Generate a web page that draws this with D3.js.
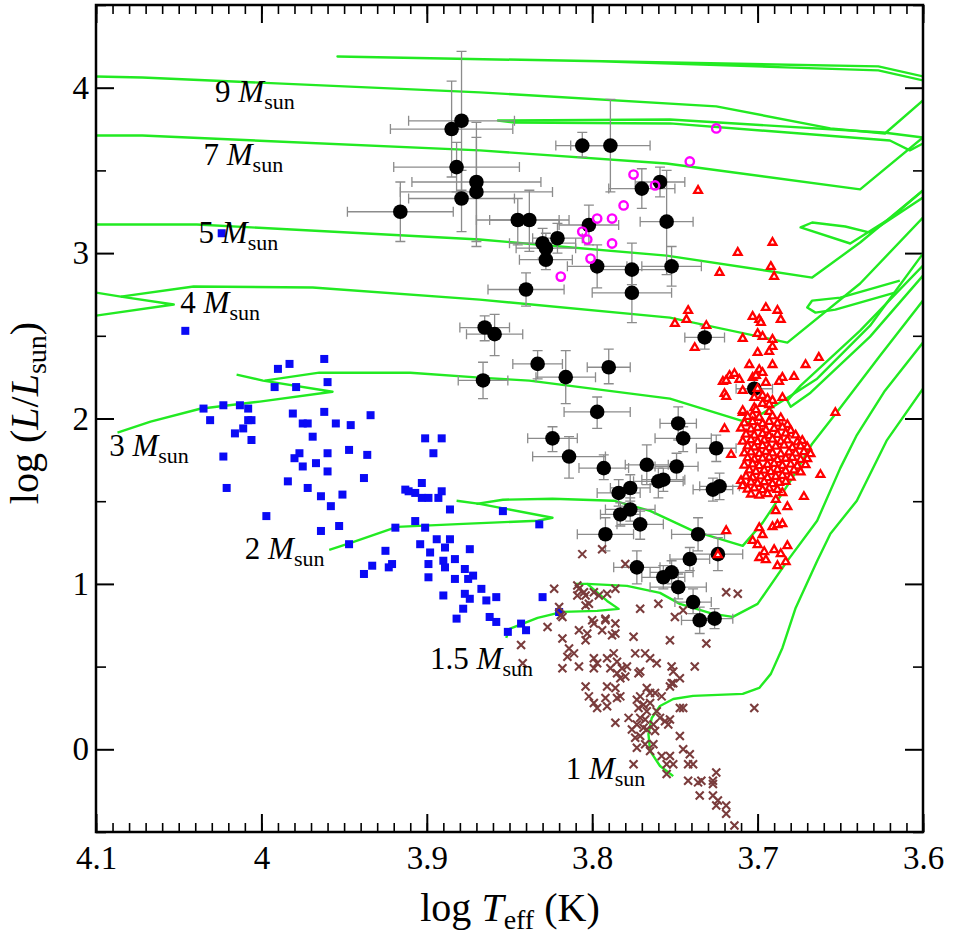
<!DOCTYPE html>
<html>
<head>
<meta charset="utf-8">
<script src="https://cdn.jsdelivr.net/npm/d3@7"></script>
<style>
  body { margin: 0; background: #fff; }
  svg, svg text { font-family: "Liberation Serif", "Times New Roman", Times, serif; }
</style>
</head>
<body>
<svg id="chart" width="953" height="934" font-family="Liberation Serif, Times New Roman, serif"></svg>
<script>
// axis ticks
const xTicks = [4.1, 4, 3.9, 3.8, 3.7, 3.6]
const yTicks = [0, 1, 2, 3, 4]

// evolutionary tracks, [log Teff, log L]
const track9 = [[4.100,4.068],[4.072,4.062],[3.868,3.972],[3.725,3.887],[3.656,3.754],[3.623,3.723],[3.600,3.923]]
const track9Loop = [[3.600,4.068],[3.627,4.129],[3.954,4.189],[3.795,4.159],[3.627,4.105],[3.600,4.044]]
const track7Loop = [[3.600,3.699],[3.624,3.729],[3.753,3.808],[3.857,3.802],[3.848,3.790],[3.753,3.784],[3.620,3.681],[3.608,3.621],[3.600,3.663]]
const track7 = [[4.100,3.711],[4.072,3.711],[3.868,3.621],[3.755,3.542],[3.638,3.385],[3.600,3.699]]
const track5 = [[4.100,3.173],[4.039,3.173],[3.868,3.082],[3.755,2.985],[3.667,2.852],[3.638,3.064],[3.600,3.379]]
const track5Loop = [[3.600,3.336],[3.632,3.124],[3.647,3.161],[3.667,3.185],[3.674,3.155],[3.644,3.058],[3.620,3.209],[3.600,3.379]]
const track4a = [[4.100,2.622],[4.053,2.689],[4.085,2.737],[4.100,2.761]]
const track4b = [[4.085,2.737],[4.041,2.798],[3.969,2.792],[3.868,2.719],[3.753,2.610],[3.682,2.459],[3.638,2.816],[3.600,3.215]]
const track4Loop = [[3.614,2.834],[3.650,2.731],[3.667,2.713],[3.670,2.671],[3.665,2.640],[3.653,2.658],[3.617,2.761]]
const track3a = [[4.087,1.914],[4.067,1.981],[4.037,2.059],[4.001,2.102],[3.957,2.162],[3.999,2.229],[4.015,2.265]]
const track3b = [[3.998,2.229],[3.965,2.277],[3.910,2.277],[3.868,2.247],[3.838,2.229],[3.753,2.120],[3.706,1.975],[3.680,2.138],[3.664,2.241],[3.632,2.561],[3.600,2.997]]
const track3Loop = [[3.600,2.925],[3.638,2.531],[3.674,2.199],[3.682,2.108],[3.680,2.071],[3.668,2.156],[3.632,2.495],[3.600,2.864]]
const track2a = [[3.959,1.206],[3.946,1.248],[3.918,1.345],[3.878,1.363],[3.833,1.382],[3.824,1.400],[3.868,1.484],[3.882,1.503]]
const track2b = [[3.870,1.484],[3.854,1.509],[3.824,1.515],[3.787,1.503],[3.765,1.442],[3.739,1.321],[3.709,1.230],[3.697,1.369],[3.680,1.624],[3.667,1.848],[3.650,2.065],[3.626,2.380],[3.600,2.713]]
const track15a = [[3.852,0.674],[3.850,0.728],[3.833,0.795],[3.818,0.831],[3.797,0.837],[3.784,0.849],[3.791,0.897],[3.803,1.000],[3.810,1.000]]
const track15b = [[3.803,1.000],[3.779,0.988],[3.759,0.946],[3.747,0.879],[3.727,0.819],[3.715,0.801],[3.700,0.879],[3.682,1.139],[3.664,1.382],[3.650,1.700],[3.640,1.900],[3.623,2.168],[3.600,2.459]]
const track1 = [[3.751,-0.162],[3.759,-0.101],[3.765,-0.010],[3.766,0.093],[3.764,0.189],[3.759,0.262],[3.751,0.304],[3.739,0.323],[3.709,0.335],[3.699,0.371],[3.692,0.456],[3.685,0.613],[3.677,0.855],[3.664,1.139],[3.656,1.303],[3.640,1.503],[3.622,1.866],[3.600,2.180]]
const tracks = [track9, track9Loop, track7Loop, track7, track5, track5Loop, track4a, track4b, track4Loop,
  track3a, track3b, track3Loop, track2a, track2b, track15a, track15b, track1]

// track mass labels and where they sit
const massLabels = ['9', '7', '5', '4', '3', '2', '1.5', '1']
const massLabelT = [4.028, 4.035, 4.038, 4.049, 4.092, 4.010, 3.898, 3.816]
const massLabelL = [3.911, 3.530, 3.064, 2.640, 1.775, 1.149, 0.486, -0.180]

// blue squares
const bluePoints = [[4.024,3.12],[4.046,2.53],[3.962,2.36],[3.990,2.30],[3.983,2.33],[3.960,2.22],[3.992,2.19],[3.979,2.19],
  [4.035,2.06],[4.023,2.08],[4.013,2.08],[4.008,2.06],[4.031,1.99],[4.008,1.99],[4.006,1.99],[4.016,1.91],[4.011,1.94],
  [4.006,1.87],[3.981,2.03],[3.975,1.97],[3.972,1.97],[3.962,2.04],[3.955,1.97],[3.946,1.96],[3.934,2.02],[3.969,1.89],
  [3.901,1.88],[3.891,1.88],[3.896,1.79],[4.023,1.77],[4.021,1.58],[3.980,1.76],[3.977,1.79],[3.975,1.71],[3.967,1.73],
  [3.960,1.79],[3.960,1.68],[3.947,1.81],[3.936,1.78],[3.938,1.64],[3.984,1.62],[3.972,1.58],[3.964,1.53],[3.951,1.54],
  [3.958,1.47],[3.997,1.41],[3.964,1.32],[3.953,1.35],[3.947,1.24],[3.938,1.06],[3.933,1.11],[3.925,1.20],[3.923,1.10],
  [3.921,1.12],[3.919,1.34],[3.913,1.57],[3.911,1.56],[3.907,1.55],[3.903,1.61],[3.903,1.52],[3.899,1.52],[3.893,1.52],
  [3.891,1.56],[3.886,1.45],[3.907,1.38],[3.901,1.34],[3.904,1.24],[3.898,1.19],[3.894,1.27],[3.889,1.22],[3.886,1.27],
  [3.899,1.12],[3.899,1.04],[3.890,1.14],[3.889,1.10],[3.883,1.15],[3.874,1.21],[3.877,1.09],[3.883,1.03],[3.872,1.05],
  [3.875,1.03],[3.890,0.93],[3.877,0.94],[3.874,0.91],[3.878,0.85],[3.882,0.79],[3.867,0.97],[3.864,0.90],[3.858,0.92],
  [3.862,0.80],[3.858,0.77],[3.851,0.71],[3.843,0.76],[3.840,0.72],[3.830,0.92],[3.820,0.83],[3.854,1.44],[3.832,1.36]]

// black circles: [log Teff, log L, err Teff, err L down, err L up]
const blackPoints = [[3.879,3.80,0.032,0.42,0.42],[3.885,3.75,0.037,0.29,0.29],[3.882,3.52,0.038,0.15,0.15],
  [3.870,3.43,0.039,0.39,0.36],[3.870,3.37,0.046,0.30,0.33],[3.879,3.33,0.032,0.20,0.17],[3.916,3.25,0.032,0.18,0.18],
  [3.845,3.20,0.025,0.15,0.13],[3.838,3.20,0.024,0.19,0.18],[3.821,3.09,0.015,0.09,0.09],[3.830,3.06,0.020,0.09,0.09],
  [3.828,3.03,0.018,0.09,0.09],[3.828,2.96,0.016,0.06,0.09],[3.840,2.78,0.023,0.10,0.10],[3.806,3.65,0.016,0.07,0.08],
  [3.789,3.65,0.024,0.28,0.28],[3.759,3.43,0.015,0.09,0.09],[3.770,3.39,0.020,0.12,0.12],[3.755,3.19,0.016,0.32,0.31],
  [3.802,3.17,0.018,0.12,0.12],[3.797,2.92,0.018,0.13,0.13],[3.776,2.90,0.021,0.09,0.16],[3.776,2.76,0.024,0.18,0.14],
  [3.752,2.92,0.018,0.12,0.12],[3.865,2.55,0.015,0.08,0.07],[3.859,2.51,0.017,0.13,0.12],[3.732,2.49,0.012,0.07,0.07],
  [3.833,2.33,0.015,0.09,0.08],[3.816,2.25,0.018,0.16,0.16],[3.790,2.31,0.013,0.10,0.11],[3.866,2.23,0.015,0.11,0.11],
  [3.797,2.04,0.020,0.10,0.09],[3.824,1.88,0.015,0.08,0.07],[3.814,1.77,0.022,0.13,0.12],[3.748,1.97,0.011,0.10,0.10],
  [3.745,1.88,0.017,0.08,0.07],[3.725,1.82,0.012,0.08,0.08],[3.702,2.18,0.011,0.07,0.06],[3.793,1.70,0.015,0.07,0.08],
  [3.767,1.72,0.013,0.12,0.12],[3.749,1.71,0.013,0.08,0.08],[3.760,1.62,0.015,0.10,0.08],[3.757,1.63,0.013,0.07,0.07],
  [3.784,1.55,0.013,0.08,0.08],[3.777,1.58,0.012,0.08,0.08],[3.727,1.57,0.012,0.07,0.07],[3.723,1.59,0.012,0.08,0.08],
  [3.777,1.45,0.015,0.07,0.07],[3.783,1.42,0.012,0.07,0.07],[3.771,1.36,0.014,0.09,0.08],[3.792,1.30,0.017,0.10,0.10],
  [3.736,1.30,0.016,0.10,0.10],[3.724,1.18,0.015,0.10,0.10],[3.741,1.15,0.012,0.07,0.07],[3.773,1.10,0.014,0.10,0.10],
  [3.757,1.04,0.013,0.07,0.07],[3.752,1.07,0.013,0.07,0.07],[3.748,0.98,0.017,0.07,0.08],[3.739,0.89,0.011,0.07,0.08],
  [3.735,0.78,0.011,0.08,0.08],[3.726,0.79,0.011,0.06,0.06]]

// magenta open circles
const magentaPoints = [[3.725,3.754],[3.741,3.554],[3.775,3.475],[3.762,3.409],[3.781,3.288],[3.797,3.209],
  [3.788,3.209],[3.806,3.130],[3.803,3.082],[3.788,3.058],[3.801,2.967],[3.819,2.858]]

// red triangles
const redPoints = [[3.736,3.378],[3.691,3.064],[3.712,3.003],[3.692,2.918],[3.690,2.858],[3.723,2.882],[3.742,2.652],
  [3.743,2.598],[3.750,2.574],[3.731,2.561],[3.738,2.428],[3.695,2.670],[3.688,2.653],[3.703,2.616],[3.699,2.598],
  [3.698,2.580],[3.686,2.598],[3.700,2.513],[3.697,2.495],[3.709,2.483],[3.691,2.477],[3.691,2.434],[3.693,2.404],
  [3.700,2.398],[3.663,2.368],[3.671,2.325],[3.691,2.325],[3.705,2.325],[3.699,2.295],[3.697,2.277],[3.678,2.253],
  [3.685,2.247],[3.687,2.223],[3.703,2.247],[3.701,2.259],[3.717,2.259],[3.714,2.271],[3.711,2.235],[3.721,2.223],
  [3.719,2.229],[3.695,2.217],[3.700,2.180],[3.709,2.168],[3.720,2.150],[3.719,2.132],[3.702,2.126],[3.697,2.138],
  [3.694,2.120],[3.691,2.108],[3.685,2.126],[3.693,2.083],[3.697,2.090],[3.709,2.035],[3.702,2.065],[3.703,2.017],
  [3.653,2.035],[3.720,1.938],[3.716,1.781],[3.710,1.624],[3.709,1.593],[3.662,1.660],[3.672,1.527],[3.685,1.551],
  [3.689,1.509],[3.682,1.466],[3.689,1.442],[3.699,1.339],[3.697,1.297],[3.691,1.345],[3.688,1.357],[3.685,1.363],
  [3.719,1.321],[3.703,1.261],[3.700,1.236],[3.682,1.230],[3.696,1.194],[3.690,1.206],[3.686,1.182],[3.699,1.158],
  [3.695,1.145],[3.683,1.133],[3.688,1.109],[3.724,1.176],
  [3.709,2.047],[3.701,2.052],[3.693,2.041],
  [3.706,2.011],[3.699,2.006],[3.691,2.014],[3.686,2.003],
  [3.708,1.972],[3.703,1.979],[3.697,1.968],[3.693,1.981],[3.688,1.970],[3.682,1.962],
  [3.710,1.941],[3.704,1.935],[3.700,1.944],[3.695,1.930],[3.690,1.939],[3.685,1.946],[3.680,1.927],
  [3.707,1.904],[3.702,1.898],[3.697,1.907],[3.693,1.895],[3.688,1.903],[3.683,1.910],[3.677,1.899],
  [3.709,1.862],[3.704,1.870],[3.700,1.859],[3.696,1.868],[3.691,1.874],[3.686,1.861],[3.682,1.869],[3.676,1.857],[3.673,1.866],
  [3.706,1.833],[3.702,1.826],[3.697,1.835],[3.693,1.822],[3.689,1.831],[3.684,1.838],[3.679,1.824],[3.674,1.832],[3.670,1.827],
  [3.708,1.790],[3.704,1.797],[3.699,1.788],[3.695,1.799],[3.691,1.791],[3.686,1.785],[3.681,1.796],[3.677,1.789],[3.672,1.798],[3.668,1.786],
  [3.706,1.761],[3.702,1.752],[3.697,1.759],[3.693,1.764],[3.688,1.750],[3.683,1.758],[3.679,1.763],[3.674,1.751],[3.670,1.756],
  [3.708,1.717],[3.703,1.724],[3.699,1.713],[3.694,1.721],[3.690,1.727],[3.685,1.715],[3.680,1.722],[3.676,1.712],[3.671,1.719],
  [3.705,1.688],[3.701,1.679],[3.696,1.686],[3.692,1.677],[3.688,1.690],[3.683,1.681],[3.678,1.687],[3.674,1.676],
  [3.707,1.650],[3.703,1.643],[3.698,1.652],[3.694,1.641],[3.689,1.648],[3.685,1.655],[3.680,1.644],
  [3.704,1.614],[3.700,1.607],[3.696,1.616],[3.691,1.605],[3.687,1.612],[3.683,1.618],
  [3.706,1.572],[3.702,1.579],[3.697,1.568],[3.693,1.577],[3.688,1.570],
  [3.704,1.542],[3.699,1.535],[3.694,1.544]]

// brown crosses
const brownPoints = [[3.823,0.97],[3.809,0.99],[3.808,0.97],[3.805,0.95],[3.809,0.93],[3.804,0.93],[3.799,0.95],
  [3.796,0.93],[3.791,0.94],[3.786,0.97],[3.802,0.88],[3.804,0.87],[3.820,0.86],[3.819,0.81],[3.827,0.74],[3.800,0.78],
  [3.799,0.76],[3.792,0.79],[3.792,0.78],[3.786,0.76],[3.808,0.72],[3.803,0.70],[3.794,0.72],[3.788,0.69],[3.786,0.70],
  [3.804,0.66],[3.818,0.67],[3.775,0.68],[3.760,0.88],[3.753,0.66],[3.731,0.64],[3.719,0.95],[3.712,0.94],[3.843,0.63],
  [3.814,0.61],[3.811,0.58],[3.815,0.56],[3.799,0.55],[3.797,0.52],[3.791,0.55],[3.787,0.58],[3.785,0.53],[3.789,0.49],
  [3.799,0.49],[3.808,0.50],[3.818,0.49],[3.785,0.46],[3.782,0.49],[3.779,0.50],[3.774,0.58],[3.768,0.58],[3.765,0.55],
  [3.771,0.47],[3.772,0.46],[3.780,0.44],[3.783,0.43],[3.761,0.52],[3.752,0.50],[3.751,0.47],[3.747,0.43],[3.752,0.40],
  [3.738,0.50],[3.842,0.52],[3.804,0.38],[3.802,0.32],[3.799,0.28],[3.797,0.25],[3.791,0.38],[3.792,0.31],[3.791,0.26],
  [3.786,0.37],[3.785,0.31],[3.783,0.32],[3.773,0.30],[3.771,0.32],[3.767,0.37],[3.765,0.34],[3.762,0.34],[3.758,0.32],
  [3.769,0.27],[3.765,0.28],[3.767,0.23],[3.772,0.25],[3.761,0.23],[3.751,0.40],[3.753,0.38],[3.747,0.25],[3.786,0.16],
  [3.778,0.19],[3.771,0.19],[3.768,0.18],[3.773,0.15],[3.776,0.12],[3.769,0.13],[3.767,0.12],[3.771,0.08],[3.774,0.07],
  [3.763,0.15],[3.756,0.17],[3.754,0.15],[3.753,0.18],[3.747,0.08],[3.745,0.00],[3.741,-0.03],[3.768,0.03],[3.763,0.03],
  [3.773,0.01],[3.765,-0.01],[3.758,-0.04],[3.753,-0.04],[3.751,-0.09],[3.755,-0.09],[3.742,-0.09],[3.739,-0.09],
  [3.775,-0.09],[3.755,-0.15],[3.742,-0.19],[3.736,-0.20],[3.734,-0.19],[3.727,-0.19],[3.725,-0.14],[3.727,-0.21],
  [3.735,-0.28],[3.727,-0.28],[3.724,-0.31],[3.725,-0.34],[3.719,-0.34],[3.719,-0.39],[3.714,-0.46],[3.702,0.25],
  [3.745,0.25],[3.759,0.19],[3.762,0.11],[3.806,1.18],[3.794,1.21],[3.780,1.12],[3.771,0.85],[3.750,0.80],[3.745,0.84],
  [3.818,0.80]]

const W = 953, H = 934
const margin = {top: 5, right: 30, bottom: 102, left: 96}
const serif = '"Liberation Serif", "Times New Roman", serif'
const svg = d3.select('#chart')

const x = d3.scaleLinear().domain([4.1, 3.6]).range([margin.left, W - margin.right])
const y = d3.scaleLinear().domain([-0.5, 4.5]).range([H - margin.bottom, margin.top])

const xMinor = d3.range(0, 51).map(i => +(3.6 + i * 0.01).toFixed(2))
const yMinor = [-0.5, 0.5, 1.5, 2.5, 3.5, 4.5]

svg.append('clipPath').attr('id', 'plot')
  .append('rect')
  .attr('x', margin.left).attr('y', margin.top)
  .attr('width', W - margin.left - margin.right).attr('height', H - margin.top - margin.bottom)

// axes, ticks point inward
function addAxis(axis, transform, size, width, labels) {
  const g = svg.append('g')
    .attr('transform', transform)
    .call(axis.tickSize(size))
    .attr('font-family', serif)
    .attr('font-size', 33)
  g.select('.domain').remove()
  g.selectAll('line').attr('stroke', '#000').attr('stroke-width', width)
  if (!labels) g.selectAll('text').remove()
  else g.selectAll('text').style('font-family', serif).attr('fill', '#000')
  return g
}
const fmt = d => String(+d.toFixed(1))
const bottomY = H - margin.bottom, rightX = W - margin.right

addAxis(d3.axisBottom(x).tickValues(xMinor), `translate(0,${bottomY})`, -9, 1.6, false)
addAxis(d3.axisBottom(x).tickValues(xTicks).tickFormat(fmt).tickPadding(14), `translate(0,${bottomY})`, -18, 2, true)
addAxis(d3.axisTop(x).tickValues(xMinor), `translate(0,${margin.top})`, -9, 1.6, false)
addAxis(d3.axisTop(x).tickValues(xTicks), `translate(0,${margin.top})`, -18, 2, false)
addAxis(d3.axisLeft(y).tickValues(yMinor), `translate(${margin.left},0)`, -10, 1.6, false)
addAxis(d3.axisLeft(y).tickValues(yTicks).tickFormat(fmt).tickPadding(7), `translate(${margin.left},0)`, -18, 2, true)
addAxis(d3.axisRight(y).tickValues(yMinor), `translate(${rightX},0)`, -10, 1.6, false)
addAxis(d3.axisRight(y).tickValues(yTicks), `translate(${rightX},0)`, -18, 2, false)

// tracks
const line = d3.line().x(d => x(d[0])).y(d => y(d[1]))
svg.append('g')
  .attr('clip-path', 'url(#plot)')
  .selectAll('path')
  .data(tracks)
  .join('path')
    .attr('d', line)
    .attr('fill', 'none')
    .attr('stroke', '#22ea22')
    .attr('stroke-width', 2.4)
    .attr('stroke-linejoin', 'round')

// blue squares
svg.append('g')
  .attr('fill', '#0a0af5')
  .selectAll('rect')
  .data(bluePoints)
  .join('rect')
    .attr('x', d => x(d[0]) - 4)
    .attr('y', d => y(d[1]) - 4)
    .attr('width', 8)
    .attr('height', 8)

// error bars
const cap = 5
const eb = svg.append('g').attr('stroke', '#8c8c8c').attr('stroke-width', 1.3)
blackPoints.forEach(d => {
  const cx = x(d[0]), cy = y(d[1])
  const x0 = x(d[0] + d[2]), x1 = x(d[0] - d[2])
  const y0 = y(d[1] - d[3]), y1 = y(d[1] + d[4])
  eb.append('path').attr('fill', 'none').attr('d',
    `M${x0},${cy}H${x1}M${x0},${cy - cap}V${cy + cap}M${x1},${cy - cap}V${cy + cap}` +
    `M${cx},${y0}V${y1}M${cx - cap},${y0}H${cx + cap}M${cx - cap},${y1}H${cx + cap}`)
})

// black circles
svg.append('g')
  .attr('fill', '#000')
  .selectAll('circle')
  .data(blackPoints)
  .join('circle')
    .attr('cx', d => x(d[0]))
    .attr('cy', d => y(d[1]))
    .attr('r', 7.3)

// magenta circles
svg.append('g')
  .selectAll('circle')
  .data(magentaPoints)
  .join('circle')
    .attr('cx', d => x(d[0]))
    .attr('cy', d => y(d[1]))
    .attr('r', 4.2)
    .attr('fill', 'none')
    .attr('stroke', '#f0f')
    .attr('stroke-width', 2.4)

// brown crosses
svg.append('g')
  .attr('stroke', '#7a3c3c')
  .attr('stroke-width', 2.1)
  .selectAll('path')
  .data(brownPoints)
  .join('path')
    .attr('d', d => { const px = x(d[0]), py = y(d[1]), s = 4
      return `M${px - s},${py - s}L${px + s},${py + s}M${px - s},${py + s}L${px + s},${py - s}` })

// red triangles
const tri = d3.symbol(d3.symbolTriangle, 26)
svg.append('g')
  .selectAll('path')
  .data(redPoints)
  .join('path')
    .attr('transform', d => `translate(${x(d[0])},${y(d[1])})`)
    .attr('d', tri)
    .attr('fill', '#fff')
    .attr('stroke', '#f00')
    .attr('stroke-width', 2.3)

// frame
svg.append('rect')
  .attr('x', margin.left).attr('y', margin.top)
  .attr('width', W - margin.left - margin.right).attr('height', H - margin.top - margin.bottom)
  .attr('fill', 'none').attr('stroke', '#000').attr('stroke-width', 2.5)

// mass labels
const labels = svg.append('g').attr('font-size', 31).attr('font-family', serif).style('white-space', 'pre')
massLabels.forEach((m, i) => {
  const t = labels.append('text').attr('x', x(massLabelT[i])).attr('y', y(massLabelL[i]))
  t.append('tspan').text(m + ' ')
  t.append('tspan').attr('font-style', 'italic').text('M')
  t.append('tspan').attr('font-size', 22).attr('dy', 7).text('sun')
})

// axis titles
const xt = svg.append('text')
  .attr('x', 510).attr('y', 921)
  .attr('text-anchor', 'middle')
  .attr('font-size', 40)
  .attr('font-family', serif)
  .style('white-space', 'pre')
xt.append('tspan').text('log ')
xt.append('tspan').attr('font-style', 'italic').text('T')
xt.append('tspan').attr('font-size', 28).attr('dy', 8).text('eff')
xt.append('tspan').attr('dy', -8).text(' (K)')

const yt = svg.append('text')
  .attr('transform', 'translate(38,413) rotate(-90)')
  .attr('text-anchor', 'middle')
  .attr('font-size', 40)
  .attr('font-family', serif)
  .style('white-space', 'pre')
yt.append('tspan').text('log (')
yt.append('tspan').attr('font-style', 'italic').text('L')
yt.append('tspan').text('/')
yt.append('tspan').attr('font-style', 'italic').text('L')
yt.append('tspan').attr('font-size', 28).attr('dy', 8).text('sun')
yt.append('tspan').attr('dy', -8).text(')')
</script>
</body>
</html>
